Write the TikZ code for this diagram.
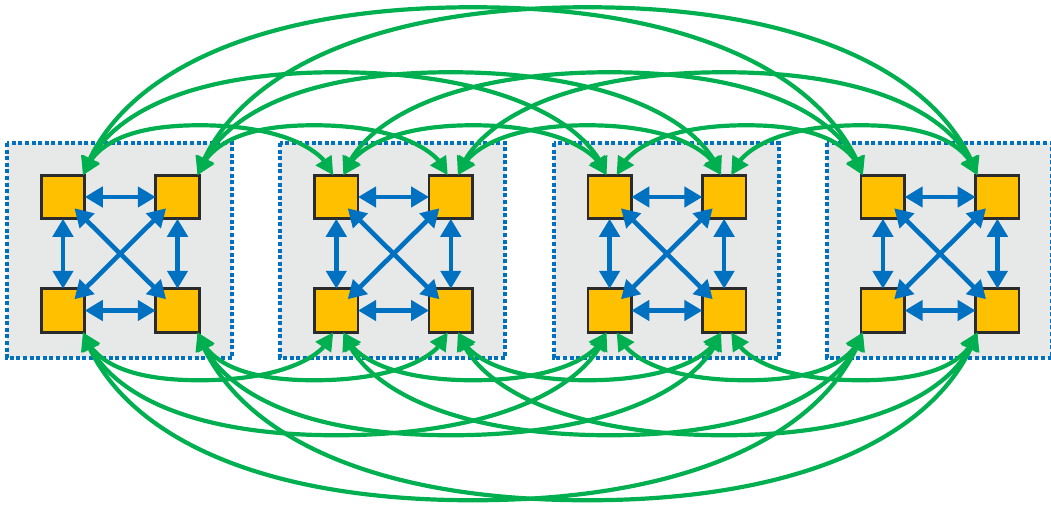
\documentclass[tikz,border=0pt]{standalone}
\usetikzlibrary{arrows.meta,bending,calc}
\definecolor{pgreen}{HTML}{00B050}
\definecolor{pblue}{HTML}{0070C0}
\definecolor{pyellow}{HTML}{FFC000}
\definecolor{pgray}{HTML}{E7E9E9}
\definecolor{pborder}{HTML}{2B2B2B}
\begin{document}
\begin{tikzpicture}[x=1pt,y=-1pt,
  groupbox/.style={fill=pgray, draw=pblue, line width=4.2pt, dash pattern=on 4pt off 2.6pt},
  unit/.style={draw=pborder, fill=pyellow, line width=2.6pt, minimum size=43.5pt, inner sep=0pt, outer sep=0pt},
  link/.style={pblue, line width=4.6pt, {Triangle[length=18pt,width=20pt]}-{Triangle[length=18pt,width=20pt]}},
  greenarc/.style={pgreen, line width=4.2pt, {Triangle[length=18pt,width=18pt,flex]}-{Triangle[length=18pt,width=18pt,flex]}}]
\useasboundingbox (0,0) rectangle (1051,509);
\foreach \g in {1,...,4}{
  \pgfmathsetmacro\ox{7+273.3*(\g-1)}
  \path[groupbox] (\ox,143) rectangle (\ox+225,358);
  \node[unit] (tl\g) at (\ox+56,197) {};
  \node[unit] (tr\g) at (\ox+170.5,197) {};
  \node[unit] (bl\g) at (\ox+56,310.5) {};
  \node[unit] (br\g) at (\ox+170.5,310.5) {};
  \draw[link] (tl\g) -- (tr\g);
  \draw[link] (bl\g) -- (br\g);
  \draw[link] (tl\g) -- (bl\g);
  \draw[link] (tr\g) -- (br\g);
  \draw[link, shorten <=16pt, shorten >=16pt] (tl\g.center) -- (br\g.center);
  \draw[link, shorten <=16pt, shorten >=16pt] (tr\g.center) -- (bl\g.center);
}
\foreach \i/\j in {1/2,1/3,1/4,2/3,2/4,3/4}{
  \pgfmathsetmacro\ht{(\j-\i==1) ? 50 : ((\j-\i==2) ? 103 : 168)}
  \pgfmathsetmacro\hb{(\j-\i==1) ? 48 : ((\j-\i==2) ? 103 : 168)}
  \pgfmathsetmacro\ka{0.56*136.7*(\j-\i)}
  \pgfmathsetmacro\kt{0.56*\ht}
  \pgfmathsetmacro\kb{0.56*\hb}
  \pgfmathsetmacro\ct{0.35*\kt}
  \pgfmathsetmacro\cb{0.35*\kb}
  \ifnum\i=1 \def\sx{20}\else\def\sx{7}\fi
  \ifnum\j=4 \def\ex{-20}\else\def\ex{-3}\fi
  \foreach \n in {tl,tr}{
    \draw[greenarc] ([xshift=\sx pt]\n\i.north) .. controls +(\ct,-\kt) and +(-\ka,0) ..
      ($(\n\i.north)!0.5!(\n\j.north)+(0,-\ht)$) .. controls +(\ka,0) and +(-\ct,-\kt) ..
      ([xshift=\ex pt]\n\j.north);
  }
  \foreach \n in {bl,br}{
    \draw[greenarc] ([xshift=\sx pt]\n\i.south) .. controls +(\cb,\kb) and +(-\ka,0) ..
      ($(\n\i.south)!0.5!(\n\j.south)+(0,\hb)$) .. controls +(\ka,0) and +(-\cb,\kb) ..
      ([xshift=\ex pt]\n\j.south);
  }
}
\end{tikzpicture}
\end{document}
